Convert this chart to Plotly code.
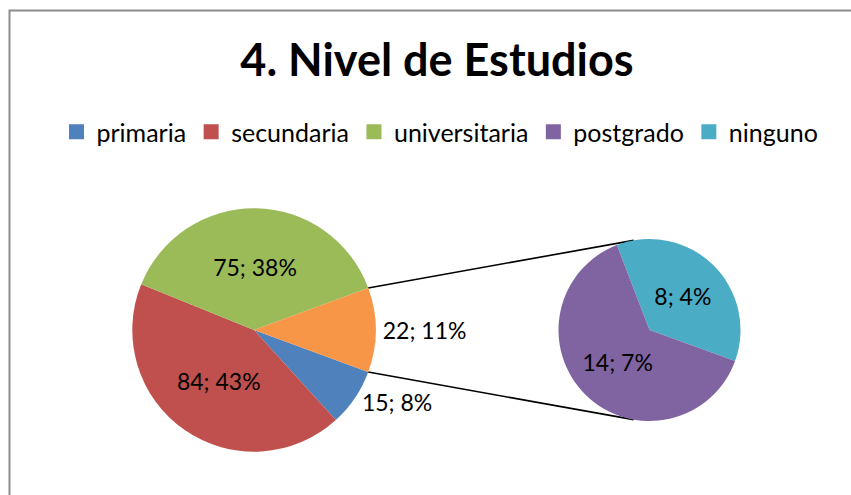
import math
import plotly.graph_objects as go

# ---- data ----
title_text = "4. Nivel de Estudios"
main_labels = ["primaria", "secundaria", "universitaria", "otros"]
main_values = [15, 84, 75, 22]
sub_labels = ["ninguno", "postgrado"]
sub_values = [8, 14]
legend_labels = ["primaria", "secundaria", "universitaria", "postgrado", "ninguno"]

colors = {
    "primaria": "#4F81BD",
    "secundaria": "#C0504D",
    "universitaria": "#9BBB59",
    "otros": "#F79646",
    "postgrado": "#8064A2",
    "ninguno": "#4BACC6",
}

W, H = 851, 495
FONT = "Lato, 'Open Sans', sans-serif"

total = sum(main_values)


def lbl(v):
    return f"{v}; {round(v / total * 100)}%"


# geometry of the two pies (pixels)
c1x, c1y, r1 = 254.0, 330.0, 121.7
c2x, c2y, r2 = 649.5, 330.0, 91.0


def dom(cx, cy, r):
    return dict(x=[(cx - r) / W, (cx + r) / W], y=[1 - (cy + r) / H, 1 - (cy - r) / H])


other_frac = main_values[-1] / total
half_other_deg = other_frac * 360 / 2
rot_main = 90 + half_other_deg

fig = go.Figure()

fig.add_trace(go.Pie(
    labels=main_labels, values=main_values, sort=False, direction="clockwise",
    rotation=rot_main, domain=dom(c1x, c1y, r1),
    marker=dict(colors=[colors[l] for l in main_labels], line=dict(width=0)),
    text=[lbl(v) for v in main_values], textinfo="text",
    textposition=["outside", "inside", "inside", "outside"],
    insidetextorientation="horizontal",
    textfont=dict(family=FONT, size=23, color="#000000"),
    showlegend=False, hoverinfo="label+value",
))

fig.add_trace(go.Pie(
    labels=sub_labels, values=sub_values, sort=False, direction="clockwise",
    rotation=-21, domain=dom(c2x, c2y, r2),
    marker=dict(colors=[colors[l] for l in sub_labels], line=dict(width=0)),
    text=[lbl(v) for v in sub_values], textinfo="text",
    textposition="inside", insidetextorientation="horizontal",
    textfont=dict(family=FONT, size=23, color="#000000"),
    showlegend=False, hoverinfo="label+value",
))

# legend entries
for name in legend_labels:
    fig.add_trace(go.Scatter(
        x=[None], y=[None], mode="markers", name=name,
        marker=dict(symbol="square", size=15, color=colors[name]),
        showlegend=True,
    ))

# connector lines between the "otros" slice and the second pie
shapes = []
for sgn in (1, -1):
    a1 = math.radians(sgn * half_other_deg)
    x0 = c1x + r1 * math.cos(a1)
    y0 = c1y - r1 * math.sin(a1)
    a2 = math.radians(sgn * 100)
    x1 = c2x + r2 * math.cos(a2)
    y1 = c2y - r2 * math.sin(a2)
    shapes.append(dict(type="line", xref="paper", yref="paper",
                       x0=x0 / W, y0=1 - y0 / H, x1=x1 / W, y1=1 - y1 / H,
                       line=dict(color="#000000", width=1.6), layer="below"))

# chart border
shapes.append(dict(type="rect", xref="paper", yref="paper",
                   x0=9.5 / W, y0=-0.05, x1=1.05, y1=1 - 10.5 / H,
                   line=dict(color="#8c8c8c", width=2), fillcolor="rgba(0,0,0,0)"))

fig.update_layout(
    width=W, height=H,
    margin=dict(l=0, r=0, t=0, b=0),
    paper_bgcolor="#ffffff", plot_bgcolor="#ffffff",
    title=dict(text=f"<b>{title_text}</b>", x=437 / W, xanchor="center",
               y=1 - 60 / H, yanchor="middle",
               font=dict(family=FONT, size=45, color="#000000")),
    legend=dict(orientation="h", x=440 / W, xanchor="center", y=1 - 132 / H,
                yanchor="middle", font=dict(family=FONT, size=25, color="#000000"),
                itemclick=False, itemdoubleclick=False, bgcolor="rgba(0,0,0,0)"),
    xaxis=dict(visible=False), yaxis=dict(visible=False),
    shapes=shapes,
)

fig.write_html("out.html", config={"displayModeBar": False},
               post_script="document.body.style.margin='0';")
